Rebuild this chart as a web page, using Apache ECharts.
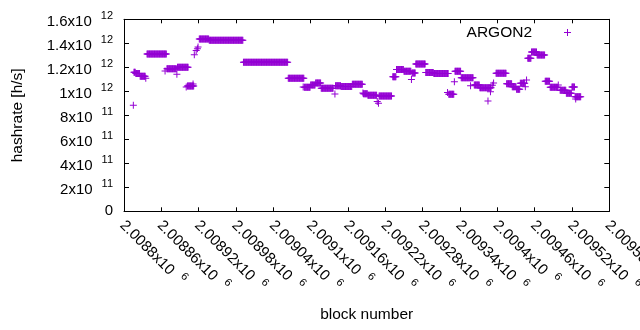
<!DOCTYPE html>
<html><head><meta charset="utf-8">
<script src="https://cdn.jsdelivr.net/npm/echarts@6/dist/echarts.min.js"></script>
<style>html,body{margin:0;padding:0;background:#fff}#c{width:640px;height:330px}</style>
</head><body><div id="c"></div>
<script>
// ---- axis ticks ----
const xMin = 2008800, xMax = 2009580, xStep = 60;
const xTickBase = ['2.0088x10','2.00886x10','2.00892x10','2.00898x10','2.00904x10','2.0091x10','2.00916x10','2.00922x10','2.00928x10','2.00934x10','2.0094x10','2.00946x10','2.00952x10','2.00958x10'];
const xTickExp = ['6','6','6','6','6','6','6','6','6','6','6','6','6','6'];
const yMin = 0, yMax = 1.6e12, yStep = 2e11;
const yTickBase = ['0','2x10','4x10','6x10','8x10','1x10','1.2x10','1.4x10','1.6x10'];
const yTickExp = ['','11','11','11','11','12','12','12','12'];

// ---- series ARGON2: runs of blocks with a constant hashrate (h/s) ----
const seriesName = 'ARGON2';
const runStart = [2008815,2008816,2008819,2008826,2008835,2008837,2008866,2008869,2008885,2008886,2008900,2008902,2008911,2008913,2008916,2008918,2008919,2008921,2008937,2008992,2009064,2009088,2009090,2009100,2009108,2009117,2009139,2009140,2009149,2009167,2009184,2009185,2009192,2009207,2009209,2009210,2009232,2009238,2009250,2009262,2009263,2009269,2009285,2009298,2009320,2009322,2009331,2009332,2009342,2009357,2009363,2009372,2009385,2009389,2009392,2009394,2009398,2009415,2009424,2009431,2009437,2009445,2009447,2009449,2009455,2009464,2009477,2009485,2009498,2009501,2009511,2009520,2009525,2009526];
const runEnd   = [2008815,2008818,2008825,2008834,2008835,2008868,2008866,2008884,2008885,2008903,2008900,2008912,2008911,2008913,2008916,2008918,2008919,2008936,2008991,2009063,2009089,2009088,2009099,2009107,2009116,2009136,2009139,2009148,2009166,2009183,2009184,2009191,2009206,2009207,2009209,2009230,2009237,2009249,2009261,2009262,2009268,2009284,2009297,2009321,2009320,2009330,2009331,2009341,2009361,2009357,2009371,2009390,2009385,2009389,2009392,2009394,2009414,2009423,2009430,2009436,2009444,2009445,2009447,2009454,2009463,2009476,2009484,2009497,2009498,2009510,2009519,2009524,2009534,2009526];
const runValue = [883e9,1158e9,1148e9,1125e9,1108e9,1310e9,1170e9,1187e9,1142e9,1200e9,1036e9,1045e9,1060e9,1305e9,1340e9,1355e9,1370e9,1435e9,1425e9,1242e9,1108e9,1036e9,1033e9,1052e9,1069e9,1025e9,977e9,1047e9,1041e9,1058e9,986e9,980e9,967e9,915e9,900e9,960e9,1122e9,1182e9,1168e9,1098e9,1152e9,1227e9,1157e9,1148e9,990e9,976e9,1080e9,1168e9,1113e9,1047e9,1052e9,1030e9,919e9,997e9,1050e9,1070e9,1150e9,1063e9,1038e9,1017e9,1067e9,1038e9,1094e9,1275e9,1327e9,1302e9,1083e9,1033e9,1052e9,1008e9,984e9,1035e9,955e9,935e9];

const points = [];
for (let r = 0; r < runStart.length; r++) {
  for (let b = runStart[r]; b <= runEnd[r]; b++) points.push([b, runValue[r]]);
}

const FONT = '"Liberation Sans", Arial, sans-serif';
const PURPLE = '#9400d3';
const PLUS = 'path://M3,0H4V3H7V4H4V7H3V4H0V3H3Z';
const labelRich = {
  m: {fontSize: 15, fontFamily: FONT, color: '#000', padding: [5, 0, 0, 0]},
  e: {fontSize: 11, fontFamily: FONT, color: '#000', padding: [0, 0, 7, 9]},
  z: {fontSize: 15, fontFamily: FONT, color: '#000'}
};

const chart = echarts.init(document.getElementById('c'), null, {renderer: 'canvas'});
chart.setOption({
  animation: false,
  backgroundColor: '#fff',
  textStyle: {fontFamily: FONT},
  grid: {left: 124, right: 30.7, top: 19.3, bottom: 118.7, outerBoundsMode: 'none', containLabel: false},
  legend: {
    data: [{name: seriesName, icon: PLUS}],
    right: 69, top: 24.5, align: 'right', orient: 'vertical',
    itemWidth: 7, itemHeight: 7, padding: 0, selectedMode: false,
    textStyle: {fontSize: 15.5, fontFamily: FONT, color: '#000', padding: [0, 27, 0, 0]}
  },
  xAxis: [{
    type: 'value', position: 'bottom', min: xMin, max: xMax, interval: xStep,
    axisLine: {show: true, onZero: false, lineStyle: {color: '#000', width: 1}},
    axisTick: {show: true, inside: true, length: 4, lineStyle: {color: '#000'}},
    splitLine: {show: false},
    axisLabel: {
      rotate: -45, margin: 10, showMinLabel: true, showMaxLabel: true, hideOverlap: false,
      formatter: v => { const i = Math.round((v - xMin) / xStep); return '{m|' + xTickBase[i] + '}{e|' + xTickExp[i] + '}'; },
      rich: labelRich
    },
    name: 'block number', nameLocation: 'middle', nameGap: 95,
    nameTextStyle: {fontSize: 15.5, fontFamily: FONT, color: '#000'}
  }, {
    type: 'value', position: 'top', min: xMin, max: xMax, interval: xStep,
    axisLine: {show: true, onZero: false, lineStyle: {color: '#000', width: 1}},
    axisTick: {show: true, inside: true, length: 4, lineStyle: {color: '#000'}},
    axisLabel: {show: false}, splitLine: {show: false}
  }],
  yAxis: [{
    type: 'value', position: 'left', min: yMin, max: yMax, interval: yStep,
    axisLine: {show: true, onZero: false, lineStyle: {color: '#000', width: 1}},
    axisTick: {show: true, inside: true, length: 5, lineStyle: {color: '#000'}},
    splitLine: {show: false},
    axisLabel: {
      margin: 11, showMinLabel: true, showMaxLabel: true,
      formatter: v => { const i = Math.round(v / yStep); return i === 0 ? '{z|' + yTickBase[i] + '}' : '{m|' + yTickBase[i] + '}{e|' + yTickExp[i] + '}'; },
      rich: labelRich
    },
    name: 'hashrate [h/s]', nameLocation: 'middle', nameGap: 98,
    nameTextStyle: {fontSize: 15.5, fontFamily: FONT, color: '#000'}
  }, {
    type: 'value', position: 'right', min: yMin, max: yMax, interval: yStep,
    axisLine: {show: true, onZero: false, lineStyle: {color: '#000', width: 1}},
    axisTick: {show: true, inside: true, length: 5, lineStyle: {color: '#000'}},
    axisLabel: {show: false}, splitLine: {show: false}
  }],
  series: [{
    name: seriesName, type: 'scatter', xAxisIndex: 0, yAxisIndex: 0,
    symbol: PLUS, symbolSize: 7,
    itemStyle: {color: PURPLE, opacity: 1},
    emphasis: {disabled: true},
    data: points
  }]
});
</script></body></html>
